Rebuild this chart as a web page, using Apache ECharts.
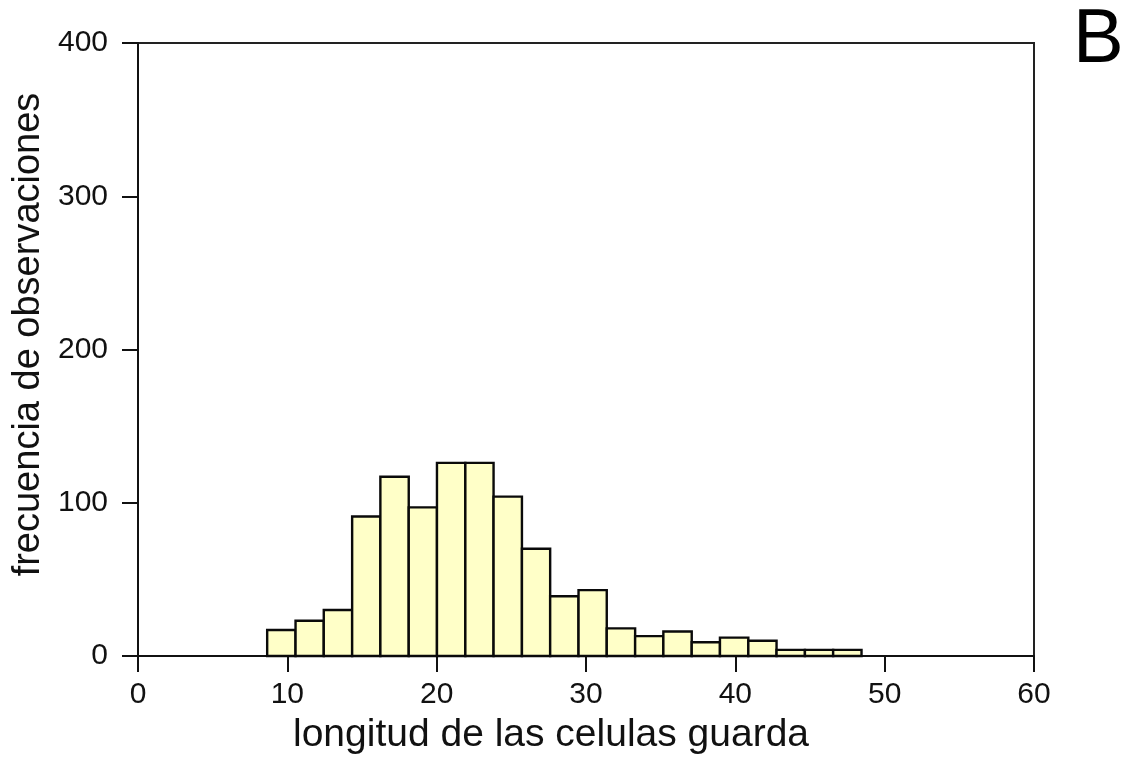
<!DOCTYPE html>
<html>
<head>
<meta charset="utf-8">
<script src="https://cdn.jsdelivr.net/npm/echarts@6/dist/echarts.min.js"></script>
<style>
  html, body { margin: 0; padding: 0; background: #ffffff; }
  #chart { width: 1123px; height: 761px; }
</style>
</head>
<body>
<div id="chart"></div>
<script>
// Histogram bin edges (guard-cell length) and observed frequencies per bin
const binEdges = [8.65, 10.55, 12.44, 14.34, 16.23, 18.13, 20.02, 21.92, 23.81, 25.71, 27.60,
                  29.50, 31.39, 33.29, 35.18, 37.08, 38.97, 40.87, 42.76, 44.66, 46.55, 48.45];
const counts = [17, 23, 30, 91, 117, 97, 126, 126, 104, 70, 39,
                43, 18, 13, 16, 9, 12, 10, 4, 4, 4];
const xTicks = [0, 10, 20, 30, 40, 50, 60];
const yTicks = [0, 100, 200, 300, 400];
const xTitle = 'longitud de las celulas guarda';
const yTitle = 'frecuencia de observaciones';
const panelLetter = 'B';

const FONT = "'Liberation Sans', Arial, Helvetica, sans-serif";
const INK = '#111111';

const bins = counts.map((c, i) => [binEdges[i], binEdges[i + 1], c]);

const chart = echarts.init(document.getElementById('chart'), null, { renderer: 'canvas' });

const axisCommon = {
  axisLine: { show: true, onZero: false, lineStyle: { color: INK, width: 2 } },
  axisTick: { show: true, inside: false, length: 16, lineStyle: { color: INK, width: 2 } },
  splitLine: { show: false },
  axisLabel: { color: INK, fontFamily: FONT, fontSize: 30 }
};

chart.setOption({
  backgroundColor: '#ffffff',
  animation: false,
  grid: {
    left: 138, right: 89, top: 43, bottom: 105,
    show: true, borderColor: '#222222', borderWidth: 2, backgroundColor: 'transparent'
  },
  xAxis: Object.assign({}, axisCommon, {
    type: 'value',
    min: xTicks[0], max: xTicks[xTicks.length - 1], interval: 10,
    axisLabel: Object.assign({}, axisCommon.axisLabel, { margin: 24 }),
    name: xTitle,
    nameLocation: 'middle',
    nameGap: 60,
    nameTextStyle: { color: INK, fontFamily: FONT, fontSize: 39, padding: [0, 70, 0, 0] }
  }),
  yAxis: Object.assign({}, axisCommon, {
    type: 'value',
    min: yTicks[0], max: yTicks[yTicks.length - 1], interval: 100,
    axisLabel: Object.assign({}, axisCommon.axisLabel, { margin: 30 }),
    name: yTitle,
    nameLocation: 'middle',
    nameGap: 90,
    nameTextStyle: { color: INK, fontFamily: FONT, fontSize: 38, padding: [0, 0, 0, 30] }
  }),
  series: [{
    type: 'custom',
    data: bins,
    encode: { x: [0, 1], y: 2 },
    renderItem: function (params, api) {
      const p0 = api.coord([api.value(0), api.value(2)]);
      const p1 = api.coord([api.value(1), 0]);
      return {
        type: 'rect',
        shape: { x: p0[0], y: p0[1], width: p1[0] - p0[0], height: p1[1] - p0[1] },
        style: { fill: '#FFFFC8', stroke: '#0a0a0a', lineWidth: 2.4 }
      };
    }
  }],
  graphic: [{
    type: 'text',
    left: 1073, top: 3,
    style: { text: panelLetter, fontFamily: FONT, fontSize: 76, fill: '#000000' }
  }]
});
</script>
</body>
</html>
